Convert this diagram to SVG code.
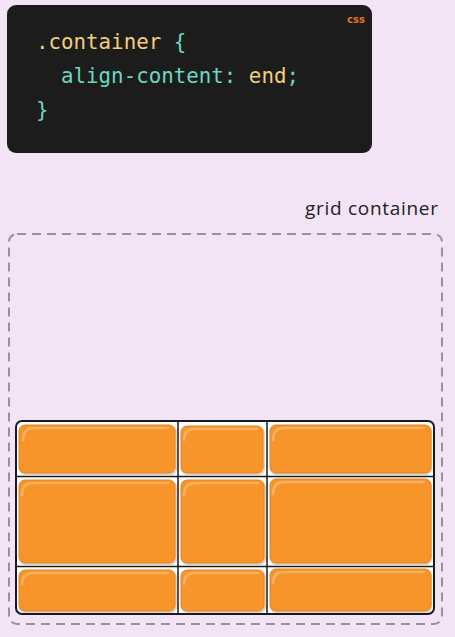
<svg xmlns="http://www.w3.org/2000/svg" width="455" height="637" viewBox="0 0 455 637">
<defs>
<style>
.code{font-family:"DejaVu Sans Mono","Liberation Mono",monospace;font-size:20.8px;}
.y{fill:#f2cf7a}
.t{fill:#6cd7c2}
.lbl{font-family:"Open Sans","DejaVu Sans",sans-serif;font-size:19px;fill:#222}
.item{fill:#f7952a;stroke:#e5841c;stroke-width:1}
.hl{fill:none;stroke:#fbb060;stroke-width:2.5;stroke-linecap:round}
.sh{fill:#d9d4d4}
.line{stroke:#1a1a1a;stroke-width:1.5}
</style>
</defs>
<rect width="455" height="637" fill="#f2e4f5"/>
<g id="code">
<rect x="7" y="5" width="365" height="148" rx="9" fill="#1c1c1c"/>
<text x="347" y="23" font-family="'DejaVu Sans',sans-serif" font-size="10" font-weight="bold" fill="#e8702a">css</text>
<text class="code" x="36" y="49"><tspan class="y">.container</tspan><tspan class="t"> {</tspan></text>
<text class="code" x="36" y="83" xml:space="preserve"><tspan class="t">  align-content: </tspan><tspan class="y">end</tspan><tspan class="t">;</tspan></text>
<text class="code t" x="36" y="117">}</text>
</g>
<g id="label"><text class="lbl" x="305" y="215" textLength="133" lengthAdjust="spacing">grid container</text></g>
<g id="container"><rect x="9" y="234" width="433" height="390" rx="8" fill="none" stroke="#9a9299" stroke-width="2" stroke-dasharray="9,6"/></g>
<g id="grid">
<rect x="16" y="421" width="418" height="193" rx="6" fill="#ffffff"/>
<g id="cells">
<rect class="sh" x="19" y="426" width="158" height="49" rx="6"/>
<rect class="sh" x="181" y="427" width="84" height="48" rx="6"/>
<rect class="sh" x="270" y="426" width="162" height="49" rx="6"/>
<rect class="sh" x="19" y="481" width="158" height="84" rx="6"/>
<rect class="sh" x="181" y="481" width="85" height="84" rx="6"/>
<rect class="sh" x="270" y="480" width="162" height="85" rx="6"/>
<rect class="sh" x="19" y="571" width="158" height="42" rx="6"/>
<rect class="sh" x="181" y="571" width="85" height="42" rx="6"/>
<rect class="sh" x="270" y="570" width="162" height="43" rx="6"/>
</g>
<g id="items">
<g id="i1"><rect class="item" x="19" y="425" width="156" height="48" rx="6"/><path class="hl" d="M23 440 Q23 428 34 428 L168 428"/></g>
<g id="i2"><rect class="item" x="181" y="426" width="82" height="47" rx="6"/><path class="hl" d="M184 440 Q184 429 195 429 L257 429"/></g>
<g id="i3"><rect class="item" x="270" y="425" width="161" height="48" rx="6"/><path class="hl" d="M273 440 Q273 428 284 428 L424 428"/></g>
<g id="i4"><rect class="item" x="19" y="480" width="156" height="83" rx="6"/><path class="hl" d="M22 495 Q22 483 33 483 L168 483"/></g>
<g id="i5"><rect class="item" x="181" y="480" width="83" height="83" rx="6"/><path class="hl" d="M184 495 Q184 483 195 483 L258 483"/></g>
<g id="i6"><rect class="item" x="270" y="479" width="161" height="84" rx="6"/><path class="hl" d="M273 494 Q273 482 284 482 L424 482"/></g>
<g id="i7"><rect class="item" x="19" y="570" width="156" height="41" rx="6"/><path class="hl" d="M22 584 Q22 573 33 573 L168 573"/></g>
<g id="i8"><rect class="item" x="181" y="570" width="83" height="41" rx="6"/><path class="hl" d="M184 584 Q184 573 195 573 L258 573"/></g>
<g id="i9"><rect class="item" x="270" y="569" width="161" height="42" rx="6"/><path class="hl" d="M273 583 Q273 572 284 572 L424 572"/></g>
</g>
<g id="lines">
<line class="line" x1="178" y1="421" x2="178" y2="614"/>
<line class="line" x1="267" y1="421" x2="267" y2="614"/>
<line class="line" x1="16" y1="476.5" x2="434" y2="476.5"/>
<line class="line" x1="16" y1="566.5" x2="434" y2="566.5"/>
</g>
<rect x="16" y="421" width="418" height="193" rx="6" fill="none" stroke="#1a1a1a" stroke-width="2"/>
</g>
</svg>
